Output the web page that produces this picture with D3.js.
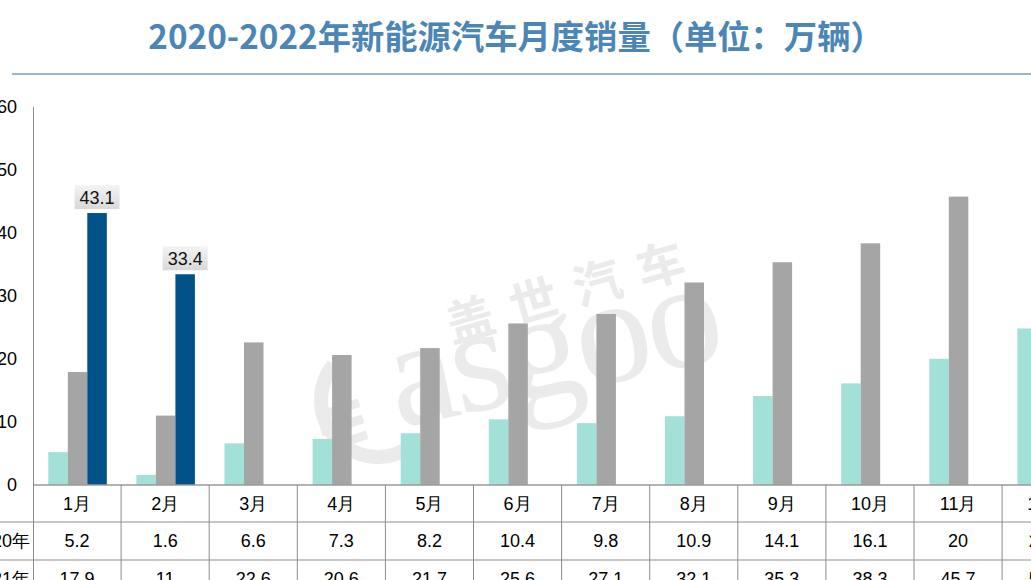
<!DOCTYPE html>
<html>
<head>
<meta charset="utf-8">
<script src="https://cdn.jsdelivr.net/npm/d3@7"></script>
<style>
  html, body { margin: 0; padding: 0; background: #fff; }
  svg { display: block; }
</style>
</head>
<body>
<svg id="chart" width="1031" height="580"></svg>
<script>
(function () {
  'use strict';

  var months = ["1月", "2月", "3月", "4月", "5月", "6月", "7月", "8月", "9月", "10月", "11月", "12月"];
  var seriesNames = ["2020年", "2021年", "2022年"];
  var sales2020 = [5.2, 1.6, 6.6, 7.3, 8.2, 10.4, 9.8, 10.9, 14.1, 16.1, 20, 24.8];
  var sales2021 = [17.9, 11, 22.6, 20.6, 21.7, 25.6, 27.1, 32.1, 35.3, 38.3, 45.7, 53.1];
  var sales2022 = [43.1, 33.4];
  var yTicks = [0, 10, 20, 30, 40, 50, 60];
  var colors = ["#a2e0d8", "#a5a5a5", "#02528a"];
  var titleText = "2020-2022年新能源汽车月度销量（单位：万辆）";

  var allSeries = [sales2020, sales2021, sales2022];

  var svg = d3.select("#chart");
  var defs = svg.append("defs");

  var grad = defs.append("linearGradient")
    .attr("id", "labelGrad")
    .attr("x1", 0).attr("y1", 0).attr("x2", 0).attr("y2", 1);
  grad.append("stop").attr("offset", "0%").attr("stop-color", "#f4f4f4");
  grad.append("stop").attr("offset", "100%").attr("stop-color", "#d8d8d8");

  // layout
  var left = 33, colW = 88.1, zeroY = 485, topY = 106.4;
  var barW = 19.5;

  // title
  svg.append("text")
    .attr("x", 516)
    .attr("y", 49)
    .attr("text-anchor", "middle")
    .style("font-family", "'Noto Sans CJK SC', sans-serif")
    .style("font-weight", "bold")
    .style("font-size", "33.3px")
    .style("fill", "#4b86b6")
    .text(titleText);

  svg.append("line")
    .attr("x1", 12).attr("x2", 1031)
    .attr("y1", 74).attr("y2", 74)
    .style("stroke", "#96b7d4")
    .style("stroke-width", 2);

  // watermark (drawn first so the bars sit on top)
  var wm = svg.append("g").style("fill", "#ebebeb");
  wm.append("text")
    .attr("transform", "translate(398,428) rotate(-12)")
    .style("font-family", "'Liberation Serif', serif")
    .style("font-size", "152px")
    .style("letter-spacing", "-4px")
    .text("asgoo");
  wm.append("text")
    .attr("transform", "translate(452,343) rotate(-16)")
    .style("font-family", "'Noto Sans CJK SC', sans-serif")
    .style("font-weight", "bold")
    .style("font-size", "48px")
    .style("letter-spacing", "18px")
    .text("盖世汽车");
  wm.append("path")
    .attr("d", d3.arc()({ innerRadius: 50, outerRadius: 64, startAngle: -0.9, endAngle: -3.9 }))
    .attr("transform", "translate(378,400)");
  [0, 1, 2].forEach(function (i) {
    wm.append("rect")
      .attr("transform", "translate(" + (316 + i * 4) + "," + (412 + i * 16) + ") rotate(-18)")
      .attr("width", 44).attr("height", 9);
  });

  var x = d3.scaleBand()
    .domain(months)
    .range([left, left + colW * months.length]);

  var x1 = d3.scaleBand()
    .domain(seriesNames)
    .range([(colW - barW * 3) / 2 + 0.5, (colW + barW * 3) / 2 + 0.5]);

  var y = d3.scaleLinear()
    .domain([0, 60])
    .range([zeroY, topY]);

  // y axis labels
  svg.append("g").selectAll("text")
    .data(yTicks)
    .join("text")
    .attr("x", 17)
    .attr("y", function (d) { return y(d); })
    .attr("dy", "0.36em")
    .attr("text-anchor", "end")
    .style("font-family", "'Liberation Sans', Arial, sans-serif")
    .style("font-size", "18px")
    .style("fill", "#000")
    .text(function (d) { return d; });

  // bars
  var groups = svg.append("g").selectAll("g")
    .data(months)
    .join("g")
    .attr("transform", function (d) { return "translate(" + x(d) + ",0)"; });

  groups.selectAll("rect")
    .data(function (m, i) {
      return seriesNames.map(function (s, k) {
        return { series: s, k: k, value: allSeries[k][i] };
      }).filter(function (d) { return d.value != null; });
    })
    .join("rect")
    .attr("x", function (d) { return x1(d.series); })
    .attr("width", x1.bandwidth())
    .attr("y", function (d) { return y(d.value); })
    .attr("height", function (d) { return zeroY - y(d.value); })
    .style("fill", function (d) { return colors[d.k]; });

  // data labels for 2022
  var labels = svg.append("g").selectAll("g")
    .data(sales2022)
    .join("g")
    .attr("transform", function (d, i) {
      return "translate(" + (x(months[i]) + x1("2022年") + x1.bandwidth() / 2) + "," + (y(d) - 4) + ")";
    });
  labels.append("rect")
    .attr("x", -22.5).attr("y", -24)
    .attr("width", 45).attr("height", 24)
    .style("fill", "url(#labelGrad)");
  labels.append("text")
    .attr("y", -12)
    .attr("dy", "0.36em")
    .attr("text-anchor", "middle")
    .style("font-family", "'Liberation Sans', Arial, sans-serif")
    .style("font-size", "18px")
    .style("fill", "#111")
    .text(function (d) { return d; });

  // data table under the chart
  var rowLines = [522, 560];
  var table = svg.append("g");

  table.selectAll("line.h")
    .data(rowLines)
    .join("line")
    .attr("x1", 0).attr("x2", 1031)
    .attr("y1", function (d) { return d; })
    .attr("y2", function (d) { return d; })
    .style("stroke", "#c6c6c6")
    .style("stroke-width", 2);

  table.append("line")
    .attr("x1", left).attr("x2", 1031)
    .attr("y1", zeroY).attr("y2", zeroY)
    .style("stroke", "#9a9a9a")
    .style("stroke-width", 1.5);

  table.selectAll("line.v")
    .data(months)
    .join("line")
    .attr("x1", function (d) { return x(d) + colW; })
    .attr("x2", function (d) { return x(d) + colW; })
    .attr("y1", zeroY).attr("y2", 580)
    .style("stroke", "#8c8c8c")
    .style("stroke-width", 1);

  // y axis line
  svg.append("line")
    .attr("x1", left + 0.5).attr("x2", left + 0.5)
    .attr("y1", 107).attr("y2", 580)
    .style("stroke", "#8c8c8c")
    .style("stroke-width", 1);

  var cellFont = function (sel) {
    sel.attr("text-anchor", "middle")
      .attr("dy", "0.36em")
      .style("font-family", "'Liberation Sans', Arial, sans-serif")
      .style("font-size", "18px")
      .style("fill", "#000");
  };

  table.append("g").selectAll("text")
    .data(months)
    .join("text")
    .attr("x", function (d) { return x(d) + colW / 2; })
    .attr("y", 504)
    .call(cellFont)
    .text(function (d) { return d; });

  var rowY = [541, 579];
  [sales2020, sales2021].forEach(function (vals, r) {
    table.append("g").selectAll("text")
      .data(vals)
      .join("text")
      .attr("x", function (d, i) { return x(months[i]) + colW / 2; })
      .attr("y", rowY[r])
      .call(cellFont)
      .text(function (d) { return d; });

    table.append("text")
      .attr("x", 30)
      .attr("y", rowY[r])
      .call(cellFont)
      .attr("text-anchor", "end")
      .text(seriesNames[r]);
  });
})();
</script>
</body>
</html>
